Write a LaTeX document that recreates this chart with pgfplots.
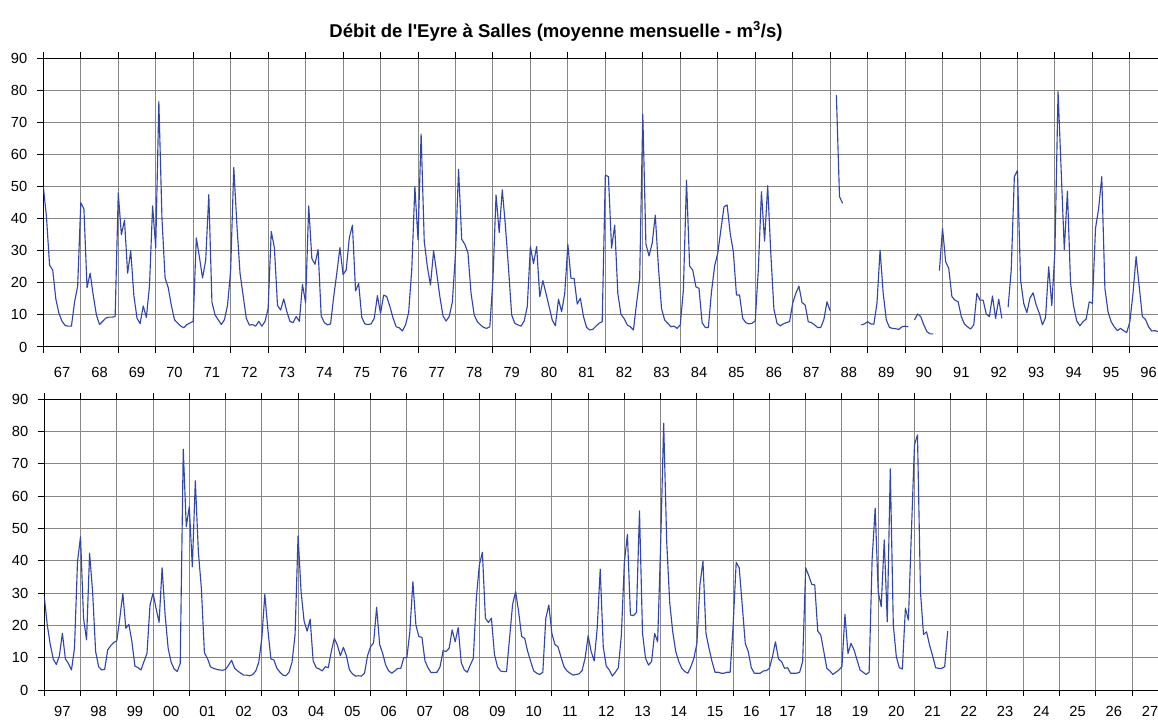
\documentclass[border=0pt]{standalone}
\usepackage{fontspec}
\setmainfont{Liberation Sans}
\usepackage{pgfplots}
\usepackage{pgfplotstable}
\pgfplotsset{compat=1.18}

\definecolor{flow}{RGB}{50,70,170}
\definecolor{gridc}{RGB}{135,135,135}

% monthly means, one row per month, Jan 1967 -> Dec 1996
\pgfplotstableread[row sep=\\]{q\\
50\\40.6\\25.5\\24\\15\\10.5\\8\\6.7\\6.5\\6.5\\14\\19\\
45\\43\\18.5\\23\\16\\10\\7\\8\\9\\9.3\\9.3\\9.5\\
48\\35\\39.5\\23\\30\\16\\9\\7.3\\12.8\\9.2\\19\\44\\
31\\76.5\\40\\21.5\\18.5\\13\\8.5\\7.5\\6.5\\6\\7\\7.5\\
8\\34\\28\\21.5\\27\\47.5\\14\\10\\8.5\\7\\8.5\\13\\
24\\56\\38\\23\\16\\9\\6.8\\7\\6.5\\8\\6.5\\8\\
12\\36\\31\\13\\11.5\\15\\11\\8\\7.6\\9.5\\8\\19.5\\
13.8\\44\\27.6\\25.8\\30.4\\9.7\\7.6\\6.9\\7.2\\15.7\\23\\31\\
22.6\\24\\34\\38\\17.5\\19.8\\9.2\\7.2\\7\\7.2\\9\\16\\
10.5\\16.2\\15.7\\12.6\\9.1\\6.3\\6\\5\\6.9\\10.7\\24\\50\\
33.4\\66.4\\33\\25\\19.3\\30\\23\\15.7\\9.7\\8.1\\9.5\\14\\
29\\55.4\\33.6\\32\\29.4\\16.7\\10\\7.9\\6.9\\6.1\\5.8\\6.3\\
21\\47.4\\35.7\\49\\37.8\\24.5\\10\\7.4\\6.9\\6.5\\8.1\\12.6\\
31.3\\26\\31.3\\15.7\\20.7\\16.7\\12.6\\8.4\\6.6\\14.9\\11\\16.7\\
32\\21.4\\21.4\\13.4\\15.2\\9.5\\6.1\\5.3\\5.5\\6.5\\7.4\\7.9\\
53.6\\53.1\\30.8\\38\\16.7\\10.2\\8.9\\6.9\\6.3\\5.3\\13.6\\21.4\\
72.6\\32.1\\28.4\\32.3\\41.1\\25\\12\\8.4\\7.4\\6.3\\6.5\\5.8\\
6.9\\17.8\\52\\25.2\\24\\18.8\\18.3\\7.6\\6.1\\6.1\\17.2\\25.2\\
29.2\\36.5\\43.7\\44.3\\35.4\\29.7\\16.2\\16.2\\8.9\\7.6\\7.2\\7.4\\
8.1\\24\\48.4\\33\\50.3\\29.2\\11.7\\7.4\\6.6\\7.2\\7.6\\7.9\\
13.6\\16.7\\19\\13.9\\13.1\\7.9\\7.6\\6.9\\6.1\\6.1\\8.6\\14.1\\
11.3\\nan\\78.5\\46.9\\44.8\\nan\\nan\\nan\\nan\\nan\\6.9\\7.2\\
7.9\\7.2\\7.1\\13.6\\30.2\\16.7\\8.4\\6.1\\5.8\\5.7\\5.5\\6.3\\
6.5\\6.3\\nan\\8.4\\10.3\\9.5\\6.9\\4.8\\4.1\\4.1\\nan\\23.8\\
37\\26.6\\24.5\\15.7\\14.6\\14.1\\9.5\\7.2\\6.3\\5.6\\6.9\\16.7\\
14.6\\14.6\\10.3\\9.5\\15.9\\8.9\\14.9\\8.9\\nan\\12.4\\24\\53.1\\
55\\20.9\\13.6\\10.7\\15.2\\16.9\\13.1\\10.5\\6.9\\9.2\\25\\12.9\\
30.2\\79.6\\55\\30.4\\48.6\\20\\12.6\\8.1\\6.6\\7.9\\8.7\\14.1\\
13.6\\37\\43.2\\53.1\\18.3\\11\\7.9\\6.3\\5.1\\5.8\\5.1\\4.5\\
7.9\\16.7\\28.2\\18.8\\9.5\\8.6\\6.3\\5\\5.1\\4.8\\5.8\\5.5\\
}\topdata

% Jan 1997 -> Dec 2021
\pgfplotstableread[row sep=\\]{q\\
28.9\\20.1\\14\\9.5\\7.9\\10.6\\17.5\\9.6\\8.2\\6.2\\12.9\\39.7\\
47.4\\22.2\\15.5\\42.3\\30.4\\11.9\\7.2\\6.2\\6.4\\12.4\\13.7\\14.7\\
15.2\\22.2\\29.9\\19.1\\20.3\\15\\7.4\\6.9\\6.2\\8.8\\11.3\\26.3\\
29.9\\25.3\\20.9\\37.8\\23.2\\12.9\\8.6\\6.5\\5.7\\8.2\\74.5\\50.5\\
56.7\\38.1\\64.7\\42.8\\31.4\\11.5\\9.8\\7.2\\6.7\\6.4\\6.2\\6.1\\
6.4\\7.7\\9.2\\6.7\\5.9\\5.2\\4.6\\4.6\\4.4\\4.8\\5.9\\8.6\\
16\\29.6\\18.8\\9.6\\9.3\\6.7\\5.5\\4.6\\4.4\\5.5\\8.6\\17\\
47.7\\30.4\\21.3\\18.2\\21.9\\9\\6.9\\6.5\\5.9\\7.2\\6.9\\11.9\\
16\\13.9\\10.6\\13.2\\10.6\\6.2\\5\\4.3\\4.4\\4.3\\5.2\\10.6\\
13.4\\14.6\\25.6\\14.1\\11.3\\7.7\\5.9\\5.2\\5.9\\6.7\\6.7\\10\\
10\\18\\33.5\\20.1\\16.5\\16.3\\9\\6.9\\5.4\\5.4\\5.5\\7.2\\
12.2\\11.9\\12.9\\18.6\\14.9\\19.3\\8.5\\6.2\\5.5\\7.7\\9.8\\28.4\\
38.7\\42.6\\22.2\\20.9\\22.2\\11\\7.2\\5.9\\5.7\\5.7\\16\\26.5\\
30.4\\24.2\\16.5\\16\\11.9\\8.8\\5.9\\5.2\\4.8\\5.5\\22.2\\26.3\\
17.5\\14.1\\13.4\\10.3\\7.2\\5.9\\5.2\\4.6\\4.8\\5\\6\\9.8\\
16.8\\11.9\\9\\19.1\\37.4\\13.4\\7.4\\6.2\\4.3\\5.5\\6.9\\17\\
39.7\\48.1\\23.2\\23\\24\\55.4\\17.5\\9.8\\7.7\\8.8\\17.5\\14.9\\
45\\82.5\\46\\27\\18\\11.9\\8.8\\6.7\\5.7\\5.2\\7.2\\9.8\\
14.4\\32.5\\39.9\\17.5\\12.9\\8.8\\5.5\\5.5\\5.2\\5.2\\5.5\\5.5\\
20.1\\39.5\\37.8\\26.3\\14.4\\11.9\\6.9\\5.2\\5.2\\5.2\\5.9\\6\\
6.7\\10.3\\14.9\\9.6\\8.8\\6.7\\6.9\\5.2\\5.2\\5.2\\5.5\\8.8\\
37.8\\35.4\\32.7\\32.5\\18.2\\17\\11.9\\6.7\\5.9\\4.8\\5.5\\6.2\\
7.2\\23.4\\11.3\\14.4\\12.4\\9.3\\6.2\\5.5\\4.8\\5.5\\40.7\\56.2\\
30.4\\25.8\\46.4\\21.1\\68.4\\20.1\\10.3\\6.9\\6.5\\25.3\\21.6\\49\\
75.8\\78.9\\30.2\\17.2\\18\\13.9\\10.6\\6.9\\6.7\\6.7\\7.2\\18.2\\
}\bottomdata

\pgfplotsset{
  debit/.style={
    scale only axis,
    anchor=south west,
    width=843pt,
    ymin=0, ymax=90,
    ytick={0,10,...,90},
    xmajorgrids, ymajorgrids,
    grid style={gridc, line width=0.75pt},
    axis line style={black, line width=0.75pt},
    tick style={black, line width=0.75pt},
    tick align=outside,
    major tick length=4.5pt,
    ticklabel style={font=\fontsize{11}{13}\selectfont},
    /pgf/number format/assume math mode=true,
    yticklabel style={xshift=-4pt},
    unbounded coords=jump,
  },
}

\begin{document}
\begin{tikzpicture}
\useasboundingbox (0,0) rectangle (868.5pt,539.25pt);

\node[font=\bfseries\fontsize{13.9}{16}\selectfont] at (417pt,516pt)
  {Débit de l\textquotesingle Eyre à Salles (moyenne mensuelle - m\textsuperscript{3}/s)};

\begin{axis}[debit,
  at={(32.5pt,279pt)}, height=216.5pt,
  xmin=1967, xmax=1997,
  xtick={1967,1968,...,1997},
  xticklabels={67,68,69,70,71,72,73,74,75,76,77,78,79,80,81,82,83,84,85,86,
    87,88,89,90,91,92,93,94,95,96,{}},
  xticklabel style={xshift=14.05pt, yshift=-7pt},
]
\addplot[flow, line width=0.85pt, line join=round]
  table[x expr=1967+\coordindex/12, y=q] {\topdata};
\end{axis}

\begin{axis}[debit,
  at={(33.2pt,21.75pt)}, height=218.25pt,
  xmin=1997, xmax=2028,
  xtick={1997,1998,...,2028},
  xticklabels={97,98,99,00,01,02,03,04,05,06,07,08,09,10,11,12,13,14,15,16,
    17,18,19,20,21,22,23,24,25,26,27,{}},
  xticklabel style={xshift=13.6pt, yshift=-4.5pt},
]
\addplot[flow, line width=0.85pt, line join=round]
  table[x expr=1997+\coordindex/12, y=q] {\bottomdata};
\end{axis}
\end{tikzpicture}
\end{document}
